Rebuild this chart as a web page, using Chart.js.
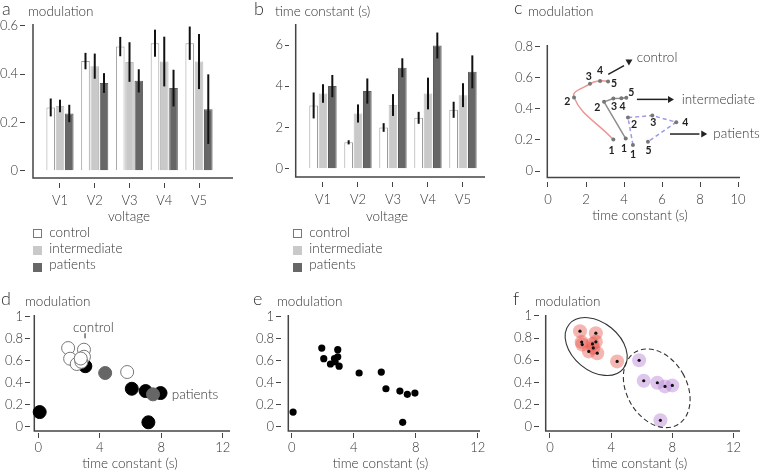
<!DOCTYPE html>
<html>
<head>
<meta charset="utf-8">
<script src="https://cdn.jsdelivr.net/npm/chart.js@4.4.1/dist/chart.umd.min.js"></script>
<style>
  body { margin: 0; background: #fff; }
  #fig { position: relative; width: 760px; height: 473px; overflow: hidden; font-family: Lato, "Open Sans", sans-serif; font-weight: 300; color: #333; }
  #fig canvas { position: absolute; }
  .txt { position: absolute; line-height: 1; white-space: nowrap; }
  .sq { position: absolute; width: 9px; height: 9px; box-sizing: border-box; }
</style>
</head>
<body>
<div id="fig">
  <canvas id="ca" width="250" height="228" style="left:0;top:0"></canvas>
  <canvas id="cb" width="260" height="228" style="left:250px;top:0"></canvas>
  <canvas id="cc" width="255" height="228" style="left:505px;top:0"></canvas>
  <canvas id="cd" width="250" height="183" style="left:0;top:290px"></canvas>
  <canvas id="ce" width="255" height="183" style="left:250px;top:290px"></canvas>
  <canvas id="cf" width="255" height="183" style="left:505px;top:290px"></canvas>
</div>
<script>
// ---- data ----
const voltages = ["V1", "V2", "V3", "V4", "V5"];
const groups = ["control", "intermediate", "patients"];

// a: modulation per voltage (mean, half error bar)
const modControl = [0.262, 0.454, 0.514, 0.528, 0.528];
const modInter = [0.268, 0.433, 0.45, 0.452, 0.452];
const modPatients = [0.237, 0.363, 0.372, 0.342, 0.255];
const modControlErr = [0.037, 0.034, 0.04, 0.056, 0.069];
const modInterErr = [0.026, 0.052, 0.082, 0.103, 0.114];
const modPatientsErr = [0.036, 0.041, 0.048, 0.076, 0.144];

// b: time constant per voltage
const tauControl = [3.07, 1.28, 2.0, 2.47, 2.86];
const tauInter = [3.65, 2.68, 3.09, 3.65, 3.57];
const tauPatients = [4.01, 3.77, 4.9, 5.98, 4.7];
const tauControlErr = [0.63, 0.1, 0.21, 0.29, 0.39];
const tauInterErr = [0.45, 0.44, 0.53, 0.77, 0.58];
const tauPatientsErr = [0.54, 0.61, 0.46, 0.63, 0.8];

// c: trajectories through V1..V5
const stepLabels = ["1", "2", "3", "4", "5"];
const trajControlX = [3.44, 1.37, 2.21, 2.74, 3.16];
const trajControlY = [0.202, 0.473, 0.561, 0.58, 0.576];
const trajInterX = [4.09, 2.95, 3.44, 3.86, 4.12];
const trajInterY = [0.209, 0.445, 0.467, 0.469, 0.471];
const trajPatX = [4.47, 4.21, 5.49, 6.75, 5.26];
const trajPatY = [0.168, 0.344, 0.357, 0.314, 0.189];

// d, e: single subjects
const ctrlTau = [1.94, 2.97, 2.07, 2.97, 2.5, 2.8, 2.76, 5.78];
const ctrlMod = [0.715, 0.70, 0.618, 0.636, 0.57, 0.59, 0.62, 0.497];
const interTau = [4.35, 7.46];
const interMod = [0.488, 0.294];
const patTau = [0.09, 3.06, 6.08, 6.98, 7.95, 7.16];
const patMod = [0.133, 0.55, 0.345, 0.324, 0.306, 0.04];

// f: two clusters
const clusterATau = [1.96, 2.07, 2.11, 2.54, 2.78, 3.0, 2.83, 3.0, 3.09, 4.39];
const clusterAMod = [0.863, 0.764, 0.742, 0.68, 0.748, 0.767, 0.712, 0.845, 0.664, 0.59];
const clusterBTau = [5.83, 6.13, 7.02, 7.52, 8.0, 7.22];
const clusterBMod = [0.6, 0.415, 0.397, 0.364, 0.373, 0.058];

// tick values
const modTicksA = [0, 0.2, 0.4, 0.6];
const tauTicksB = [0, 2, 4, 6];
const modTicksC = [0, 0.2, 0.4, 0.6, 0.8];
const tauTicksC = [0, 2, 4, 6, 8, 10];
const modTicksDEF = [0, 0.2, 0.4, 0.6, 0.8, 1];
const tauTicksDEF = [0, 4, 8, 12];

// ---- helpers ----
Chart.defaults.font.family = 'Lato, "Open Sans", sans-serif';
Chart.defaults.font.size = 13;
Chart.defaults.font.weight = "300";
Chart.defaults.color = "#333";
Chart.defaults.animation = false;
Chart.defaults.plugins.legend.display = false;
Chart.defaults.plugins.tooltip.enabled = false;

const FONT = 'Lato, "Open Sans", sans-serif';
const toPts = (xs, ys) => xs.map((x, i) => ({ x: x, y: ys[i] }));
const idx = voltages.map((_, i) => i);

function xAxis(min, max, vals, height, labelPad, title, titlePad, fmt) {
  return {
    type: "linear", min: min, max: max, offset: false,
    afterBuildTicks: s => { s.ticks = vals.map(v => ({ value: v })); },
    afterFit: s => { s.height = height; },
    grid: { drawOnChartArea: false, drawTicks: true, tickLength: 5, color: "#444", offset: false },
    border: { display: false },
    ticks: { padding: labelPad, maxRotation: 0, autoSkip: false, color: "#333", callback: fmt || (v => String(v)) },
    title: { display: true, text: title, color: "#333", font: { size: 13.5, weight: "300" }, padding: { top: 0, bottom: titlePad } }
  };
}
function yAxis(min, max, vals, width, tickLen) {
  return {
    type: "linear", min: min, max: max,
    afterBuildTicks: s => { s.ticks = vals.map(v => ({ value: v })); },
    afterFit: s => { s.width = width; },
    grid: { drawOnChartArea: false, drawTicks: true, tickLength: tickLen, color: "#444" },
    border: { display: false },
    ticks: { padding: 2, autoSkip: false, color: "#333", callback: v => String(v) }
  };
}

// L-shaped axis frame, detached from the tick marks
const framePlugin = {
  id: "frame",
  beforeDatasetsDraw(chart, args, o) {
    const { ctx, chartArea: a } = chart;
    const x = a.left + o.gapX, y = a.bottom - o.gapY;
    ctx.save();
    ctx.strokeStyle = "#444";
    ctx.lineWidth = 1.5;
    ctx.beginPath();
    ctx.moveTo(x, a.top);
    ctx.lineTo(x, y);
    ctx.lineTo(a.right, y);
    ctx.stroke();
    ctx.restore();
  }
};

function errorBars(errs) {
  return {
    id: "errorBars",
    afterDatasetsDraw(chart) {
      const { ctx } = chart, y = chart.scales.y;
      ctx.save();
      ctx.strokeStyle = "#111";
      ctx.lineWidth = 2;
      chart.data.datasets.forEach((ds, i) => {
        chart.getDatasetMeta(i).data.forEach((bar, j) => {
          const v = ds.data[j].y;
          ctx.beginPath();
          ctx.moveTo(bar.x, y.getPixelForValue(v - errs[i][j]));
          ctx.lineTo(bar.x, y.getPixelForValue(v + errs[i][j]));
          ctx.stroke();
        });
      });
      ctx.restore();
    }
  };
}

// extra marks in data coordinates: text, segments, arrow heads, ellipses, point labels
function notes(spec) {
  return {
    id: "notes",
    afterDatasetsDraw(chart) {
      const { ctx } = chart, X = chart.scales.x, Y = chart.scales.y;
      const px = v => X.getPixelForValue(v), py = v => Y.getPixelForValue(v);
      ctx.save();
      ctx.strokeStyle = "#222";
      ctx.fillStyle = "#222";
      (spec.ellipses || []).forEach(e => {
        ctx.beginPath();
        ctx.lineWidth = 1.1;
        ctx.strokeStyle = "#333";
        ctx.setLineDash(e.dash || []);
        ctx.ellipse(px(e.x), py(e.y), e.rx, e.ry, e.rot, 0, Math.PI * 2);
        ctx.stroke();
      });
      ctx.setLineDash([]);
      ctx.strokeStyle = "#222";
      (spec.lines || []).forEach(l => {
        ctx.beginPath();
        ctx.lineWidth = l.w || 1.5;
        ctx.moveTo(px(l.x0), py(l.y0));
        ctx.lineTo(px(l.x1), py(l.y1));
        ctx.stroke();
      });
      (spec.heads || []).forEach(h => {
        const tx = px(h.x), ty = py(h.y), c = Math.cos(h.angle), s = Math.sin(h.angle);
        const bx = tx - c * 6, by = ty - s * 6;
        ctx.beginPath();
        ctx.moveTo(tx, ty);
        ctx.lineTo(bx - s * 3.5, by + c * 3.5);
        ctx.lineTo(bx + s * 3.5, by - c * 3.5);
        ctx.closePath();
        ctx.fill();
      });
      ctx.fillStyle = "#333";
      (spec.texts || []).forEach(t => {
        ctx.font = "300 13.5px " + FONT;
        ctx.textAlign = t.align || "left";
        ctx.textBaseline = "middle";
        ctx.fillText(t.text, px(t.x), py(t.y));
      });
      (spec.pointLabels || []).forEach(pl => {
        ctx.font = "bold 10.5px " + FONT;
        ctx.fillStyle = "#222";
        ctx.textAlign = "center";
        ctx.textBaseline = "middle";
        chart.getDatasetMeta(pl.dataset).data.forEach((pt, j) => {
          ctx.fillText(pl.labels[j], pt.x + pl.offsets[j][0], pt.y + pl.offsets[j][1]);
        });
      });
      ctx.restore();
    }
  };
}

function pad(top, right) { return { padding: { left: 0, top: top, right: right, bottom: 0 } }; }

// ---- a: modulation bars ----
new Chart(document.getElementById("ca"), {
  type: "bar",
  plugins: [framePlugin, errorBars([modControlErr, modInterErr, modPatientsErr])],
  data: {
    datasets: [
      { label: groups[0], data: toPts(idx, modControl), backgroundColor: "#fff", borderColor: "#9c9c9c", borderWidth: 1 },
      { label: groups[1], data: toPts(idx, modInter), backgroundColor: "#c9c9c9", borderColor: "#bdbdbd", borderWidth: 1 },
      { label: groups[2], data: toPts(idx, modPatients), backgroundColor: "#676767", borderColor: "#5c5c5c", borderWidth: 1 }
    ]
  },
  options: {
    responsive: false, devicePixelRatio: 1,
    categoryPercentage: 0.8, barPercentage: 0.93,
    layout: pad(24, 17),
    plugins: { frame: { gapX: 8, gapY: 5 } },
    scales: {
      x: xAxis(-1.007, 4.978, idx, 45, 5, "voltage", 3.2, v => voltages[v]),
      y: yAxis(-0.0509, 0.6075, modTicksA, 25, 5)
    }
  }
});

// ---- b: time constant bars ----
new Chart(document.getElementById("cb"), {
  type: "bar",
  plugins: [framePlugin, errorBars([tauControlErr, tauInterErr, tauPatientsErr])],
  data: {
    datasets: [
      { label: groups[0], data: toPts(idx, tauControl), backgroundColor: "#fff", borderColor: "#9c9c9c", borderWidth: 1 },
      { label: groups[1], data: toPts(idx, tauInter), backgroundColor: "#c9c9c9", borderColor: "#bdbdbd", borderWidth: 1 },
      { label: groups[2], data: toPts(idx, tauPatients), backgroundColor: "#676767", borderColor: "#5c5c5c", borderWidth: 1 }
    ]
  },
  options: {
    responsive: false, devicePixelRatio: 1,
    categoryPercentage: 0.8, barPercentage: 0.93,
    layout: pad(24, 25),
    plugins: { frame: { gapX: 6.7, gapY: 5 } },
    scales: {
      x: xAxis(-0.971, 4.629, idx, 46, 5, "voltage", 3.2, v => voltages[v]),
      y: yAxis(-0.646, 7.024, tauTicksB, 39, 4)
    }
  }
});

// ---- c: trajectories ----
new Chart(document.getElementById("cc"), {
  type: "scatter",
  plugins: [framePlugin, notes({
    lines: [
      { x0: 3.17, y0: 0.622, x1: 4.0, y1: 0.678 },
      { x0: 4.68, y0: 0.461, x1: 6.3, y1: 0.461 },
      { x0: 6.42, y0: 0.238, x1: 7.97, y1: 0.238 }
    ],
    heads: [
      { x: 4.26, y: 0.679, angle: Math.PI / 2 },
      { x: 6.63, y: 0.461, angle: 0 },
      { x: 8.38, y: 0.238, angle: 0 }
    ],
    texts: [
      { x: 4.67, y: 0.729, text: groups[0] },
      { x: 7.04, y: 0.461, text: groups[1] },
      { x: 8.7, y: 0.238, text: groups[2] }
    ],
    pointLabels: [
      { dataset: 0, labels: stepLabels, offsets: [[-1.7, 11.3], [-6.7, 4], [-1.3, -7.3], [0, -10], [6, 1.7]] },
      { dataset: 1, labels: stepLabels, offsets: [[-1.7, 9.7], [-6.7, 5.7], [0.7, 8], [1.3, 8.3], [5, -5.7]] },
      { dataset: 2, labels: stepLabels, offsets: [[0, 9.3], [6, 7.3], [1, 7.3], [9, 0], [0.7, 8.7]] }
    ]
  })],
  data: {
    datasets: [
      { label: groups[0], data: toPts(trajControlX, trajControlY), showLine: true, tension: 0.45,
        borderColor: "#ec9696", borderWidth: 1.5, pointRadius: 2, pointBackgroundColor: "#777", pointBorderWidth: 0 },
      { label: groups[1], data: toPts(trajInterX, trajInterY), showLine: true, tension: 0,
        borderColor: "#8e8e8e", borderWidth: 1.5, pointRadius: 2, pointBackgroundColor: "#777", pointBorderWidth: 0 },
      { label: groups[2], data: toPts(trajPatX, trajPatY), showLine: true, tension: 0, borderDash: [4, 3],
        borderColor: "#9a9ce6", borderWidth: 1.5, pointRadius: 2, pointBackgroundColor: "#777", pointBorderWidth: 0 }
    ]
  },
  options: {
    responsive: false, devicePixelRatio: 1,
    layout: pad(45, 20),
    plugins: { frame: { gapX: 7.3, gapY: 4.5 } },
    scales: {
      x: xAxis(-0.421, 10.105, tauTicksC, 46, 5, "time constant (s)", 3.9),
      y: yAxis(-0.0708, 0.811, modTicksC, 35, 5)
    }
  }
});

// ---- d: groups as open / grey / black discs ----
new Chart(document.getElementById("cd"), {
  type: "scatter",
  plugins: [framePlugin, notes({
    lines: [{ x0: 3.04, y0: 0.849, x1: 3.04, y1: 0.804, w: 1 }],
    texts: [
      { x: 3.58, y: 0.9, text: groups[0], align: "center" },
      { x: 8.68, y: 0.295, text: groups[2] }
    ]
  })],
  data: {
    datasets: [
      { label: groups[0], data: toPts(ctrlTau, ctrlMod), clip: false, pointRadius: 6.5,
        pointBackgroundColor: "#fff", pointBorderColor: "#777", pointBorderWidth: 1 },
      { label: groups[1], data: toPts(interTau, interMod), clip: false, pointRadius: 6.5,
        pointBackgroundColor: "#666", pointBorderColor: "#666", pointBorderWidth: 1 },
      { label: groups[2], data: toPts(patTau, patMod), clip: false, pointRadius: 6.5,
        pointBackgroundColor: "#000", pointBorderColor: "#000", pointBorderWidth: 1 }
    ]
  },
  options: {
    responsive: false, devicePixelRatio: 1,
    layout: pad(25, 20),
    plugins: { frame: { gapX: 4.3, gapY: 2 } },
    scales: {
      x: xAxis(-0.54, 12.468, tauTicksDEF, 40, 2, "time constant (s)", 0.9),
      y: yAxis(-0.0573, 1.0155, modTicksDEF, 30, 5)
    }
  }
});

// ---- e: all subjects ----
new Chart(document.getElementById("ce"), {
  type: "scatter",
  plugins: [framePlugin],
  data: {
    datasets: [
      { label: "subjects", data: toPts(ctrlTau.concat(interTau, patTau), ctrlMod.concat(interMod, patMod)),
        clip: false, pointRadius: 3.6, pointBackgroundColor: "#000", pointBorderWidth: 0 }
    ]
  },
  options: {
    responsive: false, devicePixelRatio: 1,
    layout: pad(25, 25),
    plugins: { frame: { gapX: 7.3, gapY: 2 } },
    scales: {
      x: xAxis(-0.69, 12.148, tauTicksDEF, 40, 2, "time constant (s)", 0.9),
      y: yAxis(-0.0573, 1.0155, modTicksDEF, 31, 5)
    }
  }
});

// ---- f: clusters ----
new Chart(document.getElementById("cf"), {
  type: "scatter",
  plugins: [framePlugin, notes({
    ellipses: [
      { x: 3.02, y: 0.724, rx: 35, ry: 24, rot: 0.69 },
      { x: 6.98, y: 0.347, rx: 30, ry: 42, rot: -0.52, dash: [5, 3] }
    ]
  })],
  data: {
    datasets: [
      { label: "cluster 1", data: toPts(clusterATau, clusterAMod), clip: false, pointRadius: 1.6,
        pointBackgroundColor: "#111", pointBorderWidth: 0 },
      { label: "cluster 2", data: toPts(clusterBTau, clusterBMod), clip: false, pointRadius: 1.6,
        pointBackgroundColor: "#111", pointBorderWidth: 0 },
      { label: "cluster 1 halo", data: toPts(clusterATau, clusterAMod), clip: false, pointRadius: 7,
        pointBackgroundColor: "rgba(232,90,82,0.45)", pointBorderWidth: 0 },
      { label: "cluster 2 halo", data: toPts(clusterBTau, clusterBMod), clip: false, pointRadius: 7,
        pointBackgroundColor: "rgba(185,135,215,0.48)", pointBorderWidth: 0 }
    ]
  },
  options: {
    responsive: false, devicePixelRatio: 1,
    layout: pad(25, 20),
    plugins: { frame: { gapX: 6.7, gapY: 2 } },
    scales: {
      x: xAxis(-0.719, 12.426, tauTicksDEF, 40, 2, "time constant (s)", 0.9),
      y: yAxis(-0.0569, 1.009, modTicksDEF, 34, 5)
    }
  }
});

// ---- panel letters, axis titles and legends as page text ----
const fig = document.getElementById("fig");
function addText(txt, left, baseline, size) {
  const el = document.createElement("div");
  el.className = "txt";
  el.textContent = txt;
  el.style.left = left + "px";
  el.style.top = (baseline - 0.887 * size) + "px";
  el.style.fontSize = size + "px";
  fig.appendChild(el);
}
function addSwatch(left, top, fill, border) {
  const el = document.createElement("div");
  el.className = "sq";
  el.style.left = left + "px";
  el.style.top = top + "px";
  el.style.background = fill;
  el.style.border = "1px solid " + border;
  fig.appendChild(el);
}

addText("a", 2, 15, 18);
addText("modulation", 28, 16.5, 13.5);
addText("b", 254, 15, 18);
addText("time constant (s)", 275, 16.5, 13.5);
addText("c", 514, 13.5, 18);
addText("modulation", 528, 16.5, 13.5);
addText("d", 1, 305, 18);
addText("modulation", 25, 307, 13.5);
addText("e", 253, 305, 18);
addText("modulation", 277, 307, 13.5);
addText("f", 513, 305, 18);
addText("modulation", 535, 307, 13.5);

const swatchFill = ["#fff", "#c9c9c9", "#676767"];
const swatchLine = ["#777", "#c9c9c9", "#676767"];
[33.3, 293.3].forEach(left => {
  groups.forEach((g, i) => {
    addSwatch(left, 229.3 + i * 16.6, swatchFill[i], swatchLine[i]);
    addText(g, left + 16, 238 + i * 16.2, 13.5);
  });
});
</script>
</body>
</html>
